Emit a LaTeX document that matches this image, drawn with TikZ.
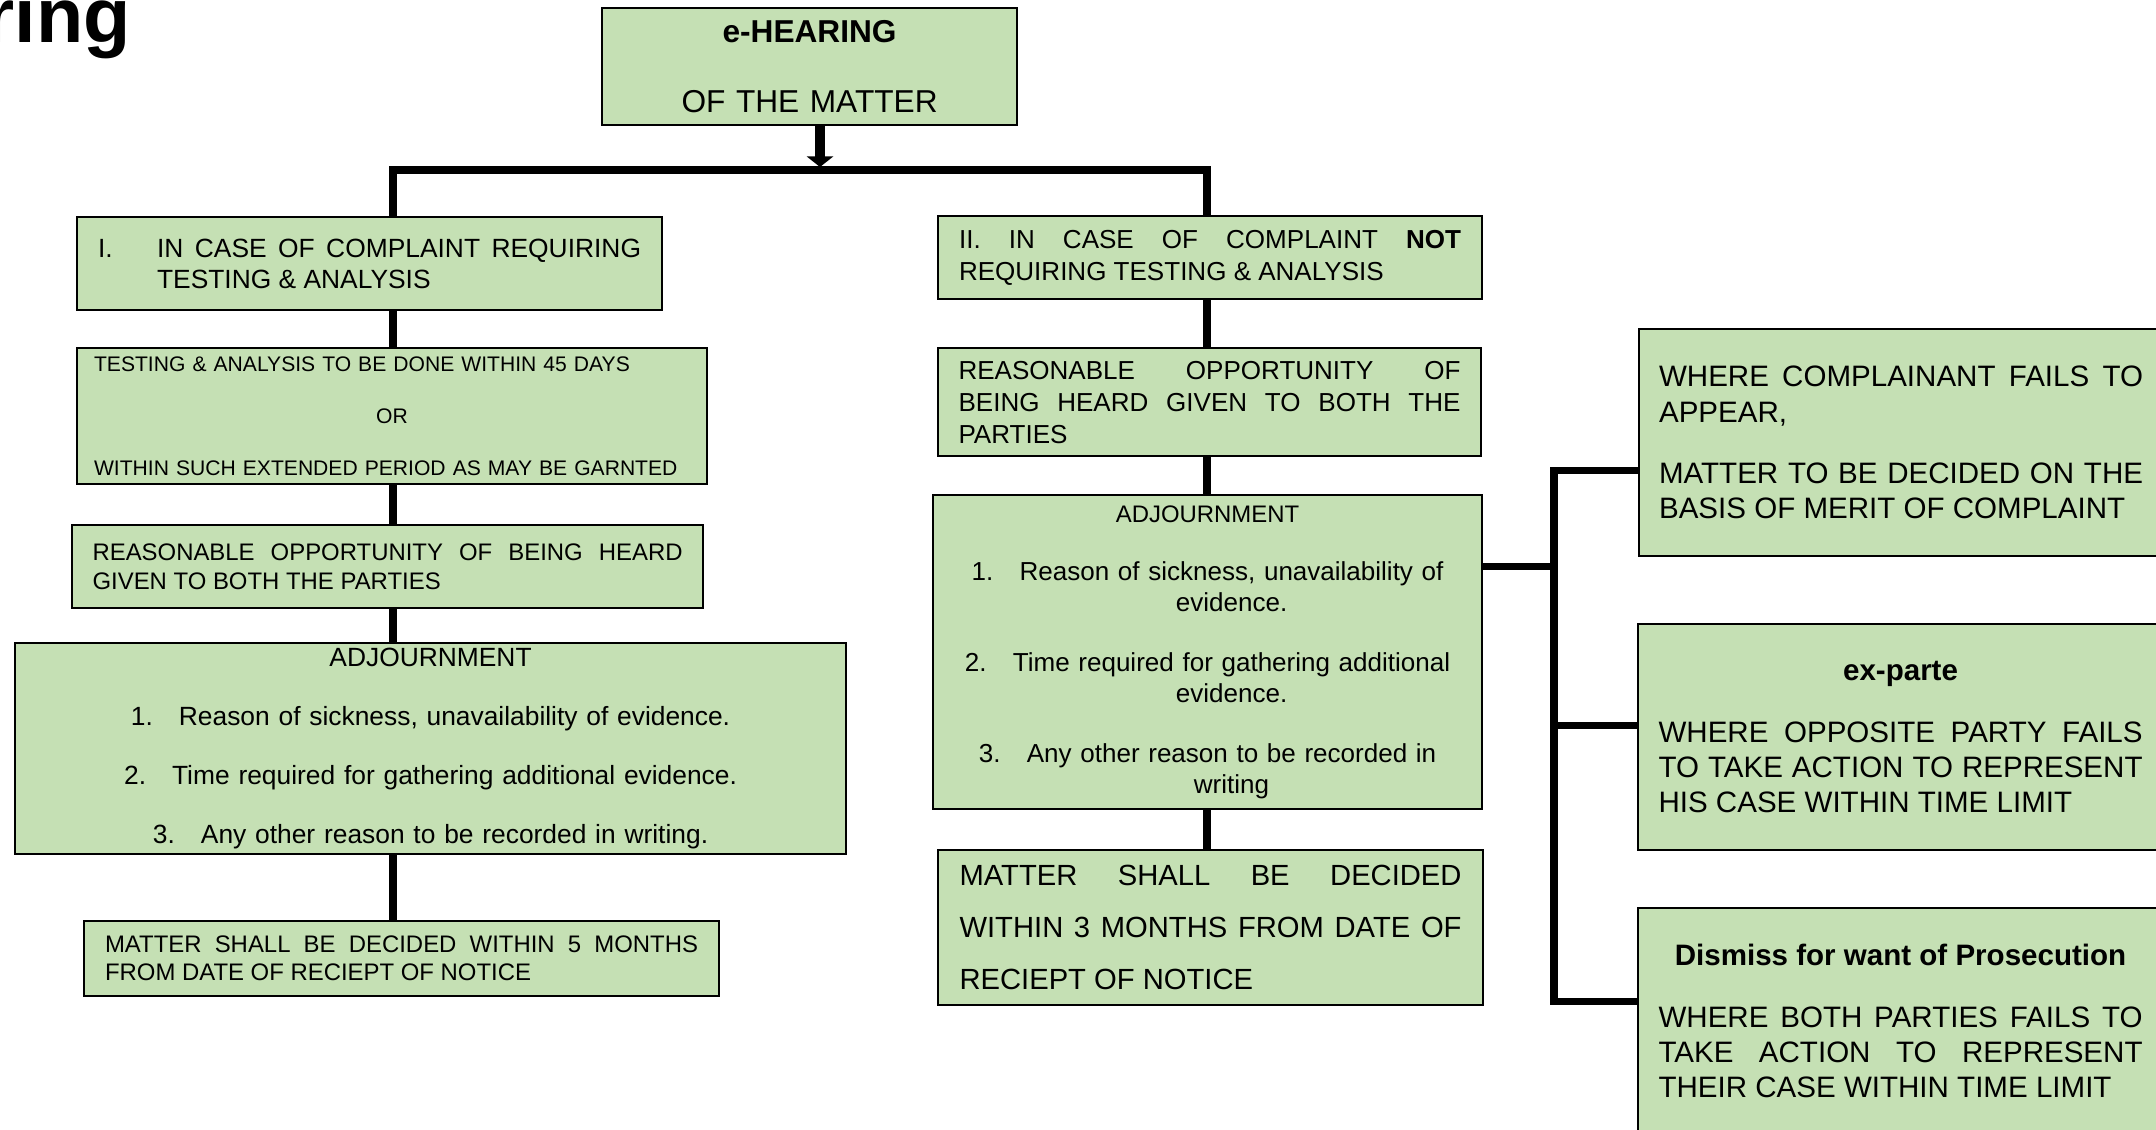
\documentclass[tikz,border=0pt]{standalone}
\usepackage{fontspec}
\setmainfont{Liberation Sans}
\usetikzlibrary{arrows.meta}
\definecolor{boxfill}{RGB}{197,224,180}
\newlength\pxu
\setlength\pxu{0.01cm}
\hyphenpenalty=10000 \exhyphenpenalty=10000
\tolerance=10000 \hbadness=10000
\setlength\parindent{0pt}

\begin{document}
\begin{tikzpicture}[x=0.01cm,y=-0.01cm,
 box/.style={draw,line width=0.6pt,fill=boxfill,anchor=north west,inner sep=0pt,align=justify},
 link/.style={line width=2pt},
 bigarrow/.style={line width=3.1pt,-{Triangle[width=7.4pt,length=3pt]}},
 ttl/.style={font={\fontsize{22}{24}\selectfont\bfseries},anchor=base west,inner sep=0pt}]

  \useasboundingbox (0,0) rectangle (2156,1129);
  \clip (0,0) rectangle (2156,1129);

  \node[ttl] (ttl) at (-16,42) {ring};

  \node[box,align=center,minimum width=415\pxu,minimum height=117\pxu,text width=395\pxu,
   font=\fontsize{9}{10.5}\selectfont] (top) at (601,7)
   {\textbf{e-HEARING}\\[34\pxu] OF THE MATTER};

  % left column
  \node[box,minimum width=585\pxu,minimum height=93\pxu,text width=543\pxu,
   font=\fontsize{7.5}{8.8}\selectfont] (c1) at (76,216)
   {\makebox[59\pxu][l]{I.}IN CASE OF COMPLAINT REQUIRING\linebreak \hspace*{59\pxu}TESTING \& ANALYSIS};

  \node[box,align=left,minimum width=630\pxu,minimum height=136\pxu,text width=596\pxu,
   font=\fontsize{6}{14.8}\selectfont] (t1) at (76,347)
   {\mbox{TESTING \& ANALYSIS TO BE DONE WITHIN 45 DAYS}\\ \hfill OR\hfill\null\\
    \mbox{WITHIN SUCH EXTENDED PERIOD AS MAY BE GARNTED}};

  \node[box,minimum width=631\pxu,minimum height=83\pxu,text width=590\pxu,
   font=\fontsize{6.8}{8.25}\selectfont] (r1) at (71,524)
   {REASONABLE OPPORTUNITY OF BEING HEARD\linebreak GIVEN TO BOTH THE PARTIES};

  \node[box,align=center,minimum width=831\pxu,minimum height=211\pxu,text width=790\pxu,
   font=\fontsize{7.5}{16.8}\selectfont] (a1) at (14,642)
   {ADJOURNMENT\\
    \makebox[48\pxu][l]{1.}Reason of sickness, unavailability of evidence.\\
    \makebox[48\pxu][l]{2.}Time required for gathering additional evidence.\\
    \makebox[48\pxu][l]{3.}Any other reason to be recorded in writing.};

  \node[box,minimum width=635\pxu,minimum height=75\pxu,text width=593\pxu,
   font=\fontsize{6.8}{8}\selectfont] (m1) at (83,920)
   {MATTER SHALL BE DECIDED WITHIN 5 MONTHS\linebreak FROM DATE OF RECIEPT OF NOTICE};

  % right column
  \node[box,minimum width=544\pxu,minimum height=83\pxu,text width=502\pxu,
   font=\fontsize{7.4}{9.1}\selectfont] (c2) at (937,215)
   {II. IN CASE OF COMPLAINT \textbf{NOT}\linebreak REQUIRING TESTING \& ANALYSIS};

  \node[box,minimum width=543\pxu,minimum height=108\pxu,text width=502\pxu,
   font=\fontsize{7.4}{9.1}\selectfont] (r2) at (937,347)
   {REASONABLE OPPORTUNITY OF\linebreak BEING HEARD GIVEN TO BOTH THE\linebreak PARTIES};

  \node[box,align=center,minimum width=549\pxu,minimum height=314\pxu,text width=507\pxu,
   font=\fontsize{7.4}{8.8}\selectfont] (a2) at (932,494)
   {{\fontsize{6.8}{8.8}\selectfont ADJOURNMENT}\\[27\pxu]
    \makebox[48\pxu][l]{1.}Reason of sickness, unavailability of\\ \hspace*{48\pxu}evidence.\\[29\pxu]
    \makebox[48\pxu][l]{2.}Time required for gathering additional\\ \hspace*{48\pxu}evidence.\\[29\pxu]
    \makebox[48\pxu][l]{3.}Any other reason to be recorded in\\ \hspace*{48\pxu}writing};

  \node[box,minimum width=545\pxu,minimum height=155\pxu,text width=502\pxu,
   font=\fontsize{8.3}{14.8}\selectfont] (m2) at (937,849)
   {MATTER SHALL BE DECIDED\linebreak WITHIN 3 MONTHS FROM DATE OF\linebreak RECIEPT OF NOTICE};

  % outcomes
  \node[box,minimum width=524\pxu,minimum height=227\pxu,text width=484\pxu,
   font=\fontsize{8.4}{10}\selectfont] (w1) at (1638,328)
   {WHERE COMPLAINANT FAILS TO\linebreak APPEAR,\\[26\pxu]
    MATTER TO BE DECIDED ON THE\linebreak BASIS OF MERIT OF COMPLAINT};

  \node[box,minimum width=525\pxu,minimum height=226\pxu,text width=484\pxu,
   font=\fontsize{8.4}{10}\selectfont] (w2) at (1637,623)
   {\leavevmode\hbox to\hsize{\hfil\textbf{ex-parte}\hfil}\\[27\pxu]
    WHERE OPPOSITE PARTY FAILS\linebreak TO TAKE ACTION TO REPRESENT\linebreak HIS CASE WITHIN TIME LIMIT};

  \node[box,minimum width=525\pxu,minimum height=226\pxu,text width=484\pxu,
   font=\fontsize{8.4}{10}\selectfont] (w3) at (1637,907)
   {\leavevmode\hbox to\hsize{\hfil\textbf{Dismiss for want of Prosecution}\hfil}\\[27\pxu]
    WHERE BOTH PARTIES FAILS TO\linebreak TAKE ACTION TO REPRESENT\linebreak THEIR CASE WITHIN TIME LIMIT};

  % connectors
  \coordinate (jx) at (820,167);
  \coordinate (lx) at (393,170);
  \coordinate (rx) at (1207,170);
  \draw[bigarrow] (top.south -| jx) -- (jx);
  \draw[link] (c1.north -| lx) -- (lx) -- (rx) -- (c2.north -| rx);

  \foreach \a/\b in {c1/t1,t1/r1,r1/a1,a1/m1}
   \draw[link] (\a.south -| lx) -- (\b.north -| lx);
  \foreach \a/\b in {c2/r2,r2/a2,a2/m2}
   \draw[link] (\a.south -| rx) -- (\b.north -| rx);

  \coordinate (b0) at (1554,566);
  \coordinate (b1) at (1554,470);
  \coordinate (b2) at (1554,725);
  \coordinate (b3) at (1554,1001);
  \draw[link] (a2.east |- b0) -- (b0);
  \draw[link] (w1.west |- b1) -- (b1) -- (b3) -- (w3.west |- b3);
  \draw[link] (b2) -- (w2.west |- b2);

\end{tikzpicture}
\end{document}
